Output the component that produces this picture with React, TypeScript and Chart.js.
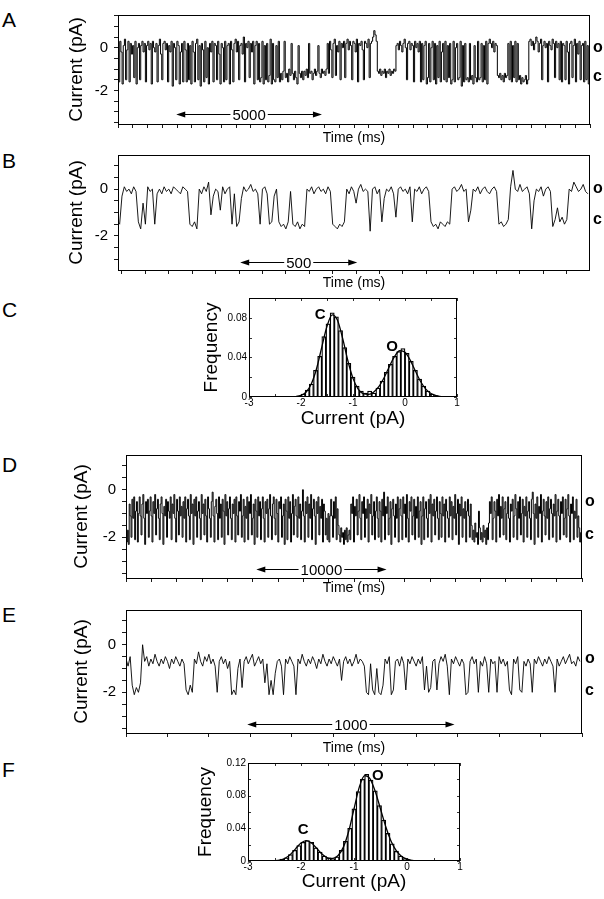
import React, { useEffect, useRef } from "react";
import { Chart, registerables } from "chart.js";

Chart.register(...registerables);

const FONT = '"Liberation Sans", Arial, Helvetica, sans-serif';

// ---------------- Panel A : long recording (ms, pA) ----------------
const A_TIME_START = 0;
const A_TIME_STEP = 40;
const A_CURRENT = [
  0.2,-1.6,0.3,-0.2,-1.7,0.1,0.4,-1.5,-0.1,0.3,-1.6,0.2,-0.3,0.1,-1.4,0.3,-1.7,0.0,0.2,-1.5,
  0.1,0.3,-0.2,0.2,-1.6,0.1,0.3,-0.1,0.2,-1.7,0.3,0.0,-0.2,0.2,-1.6,0.1,0.4,-0.3,-1.5,0.2,
  0.3,-0.1,0.2,-1.6,0.1,-0.2,0.3,-1.8,0.2,0.0,-1.5,0.3,0.1,-1.7,-0.2,0.2,-1.6,0.3,-0.1,-1.6,
  0.2,-1.5,0.1,-1.7,0.3,-0.2,-1.6,0.2,0.4,-1.5,0.1,-1.8,0.2,-0.1,-1.6,0.3,-1.4,0.0,-1.7,0.2,
  -0.2,0.3,-1.6,0.2,0.1,-1.5,0.3,-0.3,-1.7,0.2,0.0,-1.6,0.3,-1.5,0.1,0.2,-1.7,0.3,-0.1,-1.6,
  0.2,0.4,-0.2,0.3,-1.5,0.1,0.2,-0.3,0.5,-1.6,0.2,0.0,0.3,-1.4,0.2,-0.2,0.3,-1.7,0.1,0.3,
  -1.5,0.2,-1.6,-1.4,0.3,-1.7,0.1,-1.5,0.2,-1.6,-1.3,0.4,-1.7,0.2,-1.5,-1.6,0.1,-1.4,0.3,-1.6,
  -1.2,-1.5,-1.1,0.3,-1.4,-1.2,-1.6,-1.0,-1.3,0.2,-1.2,-1.5,-1.1,-1.4,-1.7,0.1,-1.2,-1.4,-1.1,-1.5,
  -1.1,-1.3,-1.0,-1.4,0.2,-1.2,-1.1,-1.5,-1.2,-1.0,-1.3,-1.1,0.1,-1.2,-1.4,-1.0,-1.2,-1.1,-1.3,-1.0,
  0.2,-1.2,0.3,-0.1,-1.4,0.2,0.4,-1.3,0.1,-0.2,0.3,-1.5,0.2,0.0,0.3,-1.4,0.2,0.4,-0.1,0.3,
  0.1,-1.5,0.3,0.2,-0.2,0.4,-1.6,0.2,0.1,0.3,-0.1,-1.5,0.3,0.2,0.0,0.4,-1.4,0.2,0.3,0.5,
  0.8,0.6,0.3,-1.1,-1.2,-1.0,-1.3,-1.1,-1.2,-1.0,-1.4,-1.1,-1.2,-1.0,-1.3,-1.1,-1.2,-1.0,-1.1,0.1,
  0.2,-0.1,0.3,0.1,-0.2,0.2,0.4,0.0,-1.5,0.2,0.3,-0.1,0.2,0.1,-1.6,0.3,0.0,0.2,-0.2,0.3,
  -1.6,0.2,-1.5,0.1,0.3,-1.7,-1.4,0.2,-1.6,0.0,0.3,-1.5,0.2,-1.7,0.1,-1.4,0.3,-1.6,-0.2,0.2,
  -1.5,0.3,-1.6,0.1,-1.4,0.2,-1.7,-1.5,0.3,-1.6,0.0,0.2,-1.5,-1.4,0.3,-1.8,0.1,-1.6,0.2,-1.5,
  -1.4,-1.6,0.2,-1.5,-1.3,-1.7,0.1,-1.4,-1.6,0.3,-1.5,-1.4,0.2,-1.6,0.1,-1.5,0.3,-1.7,0.2,0.4,
  0.2,0.0,0.3,-0.2,0.2,0.1,-1.3,-1.4,-1.2,-1.5,-1.3,-1.6,-1.2,-1.4,-1.3,0.2,-1.5,0.3,-1.6,0.1,
  -1.4,0.3,-1.6,0.2,-1.5,-1.3,-1.7,-1.4,-1.6,-1.5,-1.3,-1.7,-1.5,0.3,0.4,0.1,0.3,-0.1,0.2,0.5,
  0.3,-0.2,0.2,0.4,-1.5,0.1,0.3,0.0,0.2,-1.6,0.3,0.1,-0.1,0.4,0.2,-1.4,0.3,0.0,0.2,-1.5,
  0.3,-1.6,0.2,0.1,-1.5,0.3,-0.2,-1.7,0.2,0.3,-1.4,0.1,0.4,-1.6,0.2,-0.3,0.3,-1.5,0.1,0.2,
  -1.6,0.3,-1.5,0.1,-1.7,
];
const A_TIME_RANGE = [0, 16200];
const A_TIME_TICK = 500;
const A_CURRENT_RANGE = [-3.57, 1.53];
const A_SCALE_BAR = [2000, 7000];
const A_SCALE_BAR_LEVEL = -3.1;
const A_SCALE_BAR_TEXT = "5000";
const A_STATE_LEVELS = [0, -1.36];

// ---------------- Panel B : expanded recording ----------------
const B_TIME_START = -20;
const B_TIME_STEP = 10;
const B_CURRENT = [
  -1.4,-1.5,-0.3,
  0.1,-0.1,0.0,-0.2,0.1,-0.1,
  -1.4,-1.7,-0.6,-1.5,
  0.1,-0.1,0.0,
  -1.5,-0.2,
  0.0,-0.2,0.1,-0.1,0.0,-0.2,0.1,0.0,-0.1,-0.2,0.1,0.0,-0.1,
  -1.5,-1.6,-1.4,-1.7,
  0.0,-0.2,0.1,-0.1,0.3,
  -1.1,-0.3,
  0.0,-0.1,-0.9,0.1,-0.2,0.0,0.1,
  -1.5,-0.2,-1.6,-1.4,-0.4,
  0.1,-0.1,0.0,0.2,-0.1,0.0,-0.2,
  -1.5,
  0.0,0.1,-0.2,
  -1.5,-1.4,-0.3,
  0.0,
  -1.4,-1.6,-1.5,-1.7,-1.4,-0.1,-1.5,-1.6,-1.4,-1.7,-1.5,-1.6,
  0.0,-0.1,0.1,-0.2,0.0,0.1,-0.1,0.0,-0.2,0.1,-0.1,
  -1.5,-1.6,-1.7,-1.5,-1.6,-1.4,
  0.0,-0.2,0.1,-0.1,-0.6,0.0,0.2,-0.1,0.0,-0.1,
  -1.8,
  0.0,0.1,-0.2,0.0,
  -1.4,-0.4,
  0.0,-0.1,0.1,-0.2,
  -1.2,
  0.0,0.1,-0.1,0.0,-0.2,0.1,
  -1.4,
  0.0,-0.1,0.1,-0.2,0.0,0.1,-0.1,
  -1.4,-1.6,-1.5,-1.7,-1.4,-1.5,-1.6,-1.4,-1.5,
  0.0,0.1,-0.1,0.0,0.2,-0.1,0.0,
  -1.4,-0.9,
  0.0,-0.1,0.1,-0.2,0.0,0.1,-0.1,-0.2,0.0,0.1,-0.1,
  -1.5,-1.4,-1.6,-1.5,-1.3,
  0.1,0.8,
  0.0,-0.1,0.2,-0.1,0.0,0.1,-0.2,
  -1.7,-0.5,
  0.0,-0.1,0.1,-0.3,0.0,0.1,-0.1,
  -1.6,-1.3,-0.8,
  -1.4,-1.2,-1.5,-1.3,
  0.0,-0.1,0.3,0.1,-0.1,0.0,0.2,-0.1,-0.2,
];
const B_TIME_RANGE = [-17, 1999];
const B_TIME_TICK = 100;
const B_CURRENT_RANGE = [-3.46, 1.46];
const B_SCALE_BAR = [505, 1005];
const B_SCALE_BAR_LEVEL = -3.12;
const B_SCALE_BAR_TEXT = "500";
const B_STATE_LEVELS = [0, -1.3];

// ---------------- Panel C : amplitude histogram ----------------
const C_BIN_CENTERS = [-2.12,-2.04,-1.96,-1.88,-1.80,-1.72,-1.64,-1.56,-1.48,-1.40,-1.32,-1.24,-1.16,-1.08,-1.00,-0.92,-0.84,-0.76,-0.68,-0.60,-0.52,-0.44,-0.36,-0.28,-0.20,-0.12,-0.04,0.04,0.12,0.20,0.28,0.36,0.44,0.52,0.60,0.68];
const C_FREQUENCY = [0.0005,0.001,0.003,0.007,0.013,0.027,0.041,0.061,0.074,0.085,0.081,0.067,0.050,0.034,0.020,0.011,0.006,0.004,0.006,0.004,0.009,0.016,0.025,0.033,0.041,0.046,0.049,0.044,0.036,0.027,0.018,0.011,0.006,0.003,0.0015,0.0005];
const C_FIT_X = [-2.4,-2.3,-2.2,-2.1,-2.0,-1.9,-1.8,-1.7,-1.6,-1.5,-1.4,-1.3,-1.2,-1.1,-1.0,-0.9,-0.8,-0.7,-0.6,-0.5,-0.4,-0.3,-0.2,-0.1,0.0,0.1,0.2,0.3,0.4,0.5,0.6,0.7,0.8];
const C_FIT_Y = [0,0.00002,0.0001,0.0004,0.0016,0.0051,0.0134,0.0288,0.0504,0.0715,0.0830,0.0777,0.0594,0.0369,0.0188,0.0079,0.0033,0.0027,0.0051,0.0107,0.0197,0.0308,0.0410,0.0467,0.0452,0.0373,0.0262,0.0157,0.0080,0.0035,0.0013,0.0004,0.0001];
const C_FREQ_MAX = 0.1;
const C_STATE_LABELS = [
  { text: "C", x: -1.63, y: 0.083 },
  { text: "O", x: -0.25, y: 0.0505 },
];

// ---------------- Panel D : long recording ----------------
const D_TIME_START = 0;
const D_TIME_STEP = 70;
const D_CURRENT = [
  -1.5,-2.2,-1.7,-2.3,-0.6,-1.1,-2.0,-0.4,-1.2,-0.3,-2.1,-0.9,-0.5,-2.2,-1.0,-0.3,-1.1,-1.9,-0.6,-0.2,-1.2,-2.3,-0.5,-1.0,-0.4,
  -2.0,-0.9,-0.3,-1.1,-2.2,-0.5,-1.0,-0.2,-1.9,-0.8,-0.4,-1.2,-2.1,-0.6,-0.3,-1.0,-2.3,-0.7,-1.1,-0.4,-2.0,-0.5,-0.9,-1.2,-0.3,
  -2.1,-0.6,-1.0,-0.2,-1.2,-2.2,-0.4,-0.9,-1.9,-0.3,-1.1,-0.7,-2.0,-0.5,-1.2,-0.3,-2.2,-0.8,-0.4,-1.1,-2.1,-0.2,-1.0,-0.6,-2.3,
  -0.4,-1.1,-0.3,-2.0,-0.9,-0.5,-1.2,-2.1,-0.2,-1.0,-0.6,-1.9,-0.4,-1.1,-2.2,-0.3,-0.8,-1.2,-2.0,-0.5,-0.1,-1.1,-2.2,-0.7,-0.4,
  -1.0,-2.1,-0.3,-1.2,-0.6,-2.0,-0.4,-0.9,-2.3,-0.2,-1.1,-0.5,-1.9,-0.8,-0.3,-1.2,-2.1,-0.6,-1.0,-0.4,-2.2,-0.3,-1.1,-1.9,-0.5,
  -0.9,-0.2,-2.0,-1.1,-0.4,-2.2,-0.7,-1.2,-0.3,-2.1,-0.5,-1.0,-0.2,-1.9,-1.2,-0.6,-2.3,-0.4,-0.9,-2.0,-0.3,-1.1,-0.5,-2.1,-0.8,
  -0.3,-1.2,-2.2,-0.5,-1.0,-0.4,-2.0,-0.8,-0.2,-1.1,-2.1,-0.6,-0.3,-1.2,-1.9,-0.4,-1.0,-2.2,-0.5,-0.8,-0.3,-2.0,-1.1,-0.6,-2.3,
  -0.4,-0.9,-2.1,-0.3,-1.2,-0.5,-2.2,-1.0,-0.2,-1.9,-0.7,-0.4,-1.1,-2.0,-0.3,-1.2,-0.6,-2.1,-0.9,0.0,-1.1,-2.2,-0.5,-1.0,-0.3,
  -2.0,-0.6,-1.2,-0.2,-2.1,-0.8,-0.4,-1.1,-2.3,-0.5,-1.0,-0.3,-1.9,-0.7,-1.2,-0.4,-2.2,-0.6,-0.9,-1.9,-1.2,-2.1,-1.0,-2.2,-1.1,
  -0.4,-1.1,-2.0,-0.5,-1.2,-0.3,-2.1,-0.8,-1.5,-1.9,-2.2,-1.6,-2.0,-1.8,-2.3,-1.7,-2.1,-1.6,-2.2,-1.9,-1.7,-2.1,-0.6,-1.0,-0.3,
  -2.2,-0.7,-1.1,-0.4,-1.9,-0.9,-0.2,-1.2,-2.1,-0.5,-1.0,-0.3,-2.0,-0.8,-1.2,-0.4,-2.2,-0.6,-1.0,-0.2,-1.9,-1.1,-0.5,-2.1,-0.9,
  -0.3,-1.2,-2.0,-0.5,-0.9,-2.2,-0.4,-1.1,-0.1,-2.1,-0.7,-1.0,-0.3,-1.9,-1.2,-0.5,-2.3,-0.8,-0.4,-1.1,-2.0,-0.6,-1.2,-0.3,-2.2,
  -0.8,-0.4,-1.1,-2.1,-0.3,-1.0,-0.6,-2.0,-0.2,-1.2,-2.2,-0.5,-0.9,-0.3,-1.9,-1.1,-0.4,-2.1,-0.7,-1.2,-0.3,-2.0,-0.9,-0.5,-2.3,
  -1.1,-0.3,-2.1,-0.8,-0.5,-1.2,-2.0,-0.4,-1.0,-0.2,-2.2,-0.6,-1.1,-0.4,-1.9,-0.9,-0.3,-1.2,-2.1,-0.5,-1.0,-2.0,-0.3,-1.1,-0.6,
  -2.2,-0.4,-0.9,-1.2,-2.0,-0.3,-1.1,-0.5,-2.1,-0.7,-1.2,-0.2,-1.9,-1.0,-0.4,-2.3,-0.6,-1.1,-0.3,-2.0,-0.8,-1.2,-0.5,-2.2,-0.9,
  -0.4,-1.1,-2.0,-0.6,-1.5,-2.1,-1.7,-2.2,-1.4,-2.0,-1.8,-2.3,-0.9,-1.6,-2.1,-1.8,-2.2,-1.5,-2.0,-1.7,-2.3,-1.6,-2.1,-1.4,-0.5,
  -1.0,-0.3,-2.1,-1.2,-0.5,-0.9,-2.2,-0.4,-1.1,-0.2,-2.0,-0.7,-1.2,-0.3,-1.9,-0.8,-0.5,-2.1,-1.0,-0.3,-1.2,-2.2,-0.6,-0.9,-0.4,
  -2.0,-1.1,-0.2,-0.8,-2.1,-0.5,-1.2,-0.3,-1.9,-1.0,-0.4,-2.2,-0.7,-1.1,-0.3,-2.0,-0.9,-0.5,-1.2,-2.1,-0.4,-0.1,-1.0,-2.3,-0.6,
  -1.2,-0.3,-2.0,-0.7,-1.0,-0.2,-2.2,-0.9,-0.4,-1.1,-1.9,-0.5,-1.2,-0.3,-2.1,-0.8,-0.4,-1.0,-2.0,-0.6,-1.1,-0.2,-2.2,-0.9,-0.4,
  -1.1,-2.1,-0.5,-1.0,-0.3,-1.9,-1.2,-0.4,-2.0,-0.8,-0.2,-1.1,-2.2,-0.6,-1.0,-0.3,-2.1,-0.9,-1.2,-0.4,-2.0,-1.1,-1.6,-2.2,-1.8,
];
const D_TIME_RANGE = [0, 35000];
const D_TIME_TICK = 2000;
const D_CURRENT_RANGE = [-3.71, 1.46];
const D_SCALE_BAR = [10000, 20000];
const D_SCALE_BAR_LEVEL = -3.33;
const D_SCALE_BAR_TEXT = "10000";
const D_STATE_LEVELS = [-0.5, -1.9];

// ---------------- Panel E : expanded recording ----------------
const E_TIME_START = 0;
const E_TIME_STEP = 10;
const E_CURRENT = [
  -0.6,-0.9,-0.5,
  -1.7,-2.1,-1.8,-2.0,-1.6,
  0.0,
  -0.7,-0.5,-0.9,-0.6,-0.8,-0.4,-0.7,-0.9,-0.6,-0.8,-0.5,-0.7,-1.0,-0.6,-0.8,-0.5,-0.7,-0.9,-0.6,-0.8,
  -1.9,-2.1,-1.7,-2.0,
  -0.6,-0.8,-0.3,-0.7,-0.9,-0.5,-0.7,-0.4,-0.8,-0.6,-0.9,
  -2.0,
  -0.7,-0.5,-0.8,-0.6,-1.0,-0.7,
  -2.1,-1.9,-2.1,-1.0,
  -0.6,
  -1.8,
  -0.7,-0.5,-0.8,-0.6,-0.4,-0.9,-0.7,-0.5,-0.8,-0.6,
  -1.6,
  -0.8,
  -2.1,-1.5,-2.1,-1.2,
  -0.7,-0.6,-0.9,
  -2.1,
  -0.6,-0.8,-0.5,-0.7,-0.9,
  -2.1,
  -0.6,-0.8,-0.4,-0.7,-0.9,-0.6,-0.8,-0.5,-0.7,-1.0,-0.6,-0.8,-0.4,-0.7,-0.9,-0.6,-0.8,-0.5,-0.7,-0.9,-0.6,
  -1.5,
  -0.7,-0.5,-0.8,-0.6,-0.9,-0.7,-0.4,-0.8,-0.6,-0.7,-0.9,
  -2.0,-2.1,-0.8,-1.9,-2.1,-1.0,-2.0,-2.1,-1.7,
  -0.6,-0.8,-0.5,
  -2.1,-1.9,
  -0.7,-0.6,-0.9,-0.5,-0.8,
  -1.9,
  -0.6,-0.8,-0.5,-0.7,-0.9,-0.6,-0.8,-0.5,
  -1.9,-0.9,-2.0,-1.8,
  -0.7,-0.6,
  -1.9,
  -0.8,-0.5,-0.7,-0.4,-0.9,
  -2.1,
  -0.6,-0.8,-0.5,-0.7,-0.9,-0.6,-0.8,
  -2.1,-2.0,
  -0.7,-0.5,-0.8,-0.6,
  -2.0,
  -0.7,-0.9,-0.5,-0.8,
  -2.0,
  -0.6,-0.8,-0.7,
  -2.0,
  -0.5,-0.8,-0.6,-0.9,-0.7,
  -1.9,-2.1,
  -0.6,-0.8,-0.5,
  -1.9,-2.0,
  -0.7,-0.9,-0.6,-0.8,
  -2.0,
  -0.6,-0.8,-0.5,-0.7,-0.9,-0.6,-0.8,-0.5,-0.7,-0.9,
  -2.0,
  -0.6,-0.9,-0.7,-0.5,-0.8,-0.6,-0.4,-0.8,-0.7,-0.9,-0.5,-0.7,
];
const E_TIME_RANGE = [0, 2200];
const E_TIME_TICK = 200;
const E_CURRENT_RANGE = [-3.71, 1.46];
const E_SCALE_BAR = [585, 1585];
const E_SCALE_BAR_LEVEL = -3.33;
const E_SCALE_BAR_TEXT = "1000";
const E_STATE_LEVELS = [-0.58, -1.96];

// ---------------- Panel F : amplitude histogram ----------------
const F_BIN_CENTERS = [-2.52,-2.44,-2.36,-2.28,-2.20,-2.12,-2.04,-1.96,-1.88,-1.80,-1.72,-1.64,-1.56,-1.48,-1.40,-1.32,-1.24,-1.16,-1.08,-1.00,-0.92,-0.84,-0.76,-0.68,-0.60,-0.52,-0.44,-0.36,-0.28,-0.20,-0.12,-0.04,0.04];
const F_FREQUENCY = [0.0003,0.0008,0.0025,0.004,0.008,0.013,0.019,0.023,0.025,0.023,0.016,0.011,0.006,0.004,0.003,0.005,0.013,0.024,0.040,0.064,0.085,0.100,0.106,0.099,0.086,0.068,0.050,0.034,0.021,0.012,0.006,0.003,0.001];
const F_FIT_X = [-2.8,-2.7,-2.6,-2.5,-2.4,-2.3,-2.2,-2.1,-2.0,-1.9,-1.8,-1.7,-1.6,-1.5,-1.4,-1.3,-1.2,-1.1,-1.0,-0.9,-0.8,-0.7,-0.6,-0.5,-0.4,-0.3,-0.2,-0.1,0.0,0.1,0.2];
const F_FIT_Y = [0,0,0.0001,0.0003,0.0011,0.0034,0.0081,0.0152,0.0220,0.0250,0.0220,0.0152,0.0082,0.0039,0.0031,0.0067,0.0170,0.0364,0.0637,0.0905,0.1046,0.1009,0.0854,0.0637,0.0419,0.0241,0.0123,0.0055,0.0022,0.0008,0.0002];
const F_FREQ_MAX = 0.12;
const F_STATE_LABELS = [
  { text: "C", x: -1.96, y: 0.0376 },
  { text: "O", x: -0.55, y: 0.104 },
];

const HIST_CURRENT_RANGE = [-3, 1];

// ---------------- layout (pixels) ----------------
type Box = { left: number; top: number; width: number; height: number };

type TraceSpec = {
  canvas: Box;
  yAxisWidth: number;
  xAxisHeight: number;
  padTop: number;
  padRight: number;
  yTitlePad: number;
  xTitlePad: number;
  lineWidth: number;
  stepped: boolean;
  start: number;
  step: number;
  values: number[];
  xRange: number[];
  xTick: number;
  yRange: number[];
  bar: number[];
  barLevel: number;
  barText: string;
  levels: number[];
};

function TracePanel({ spec }: { spec: TraceSpec }) {
  const ref = useRef<HTMLCanvasElement | null>(null);
  useEffect(() => {
    const s = spec;
    const deco = {
      id: "traceDeco",
      afterDraw(chart: any) {
        const { ctx, chartArea: a, scales } = chart;
        const xs = scales.x;
        const ys = scales.y;
        ctx.save();
        ctx.strokeStyle = "#000";
        ctx.fillStyle = "#000";
        ctx.lineWidth = 1;
        ctx.strokeRect(a.left + 0.5, a.top + 0.5, a.right - a.left - 1, a.bottom - a.top);
        const y = Math.round(ys.getPixelForValue(s.barLevel)) + 0.5;
        const x0 = xs.getPixelForValue(s.bar[0]);
        const x1 = xs.getPixelForValue(s.bar[1]);
        ctx.font = `15px ${FONT}`;
        const tw = ctx.measureText(s.barText).width;
        const cx = (x0 + x1) / 2;
        const head = 9;
        const hh = 3;
        ctx.beginPath();
        ctx.moveTo(x0 + head - 1, y);
        ctx.lineTo(cx - tw / 2 - 2, y);
        ctx.moveTo(cx + tw / 2 + 2, y);
        ctx.lineTo(x1 - head + 1, y);
        ctx.stroke();
        ctx.beginPath();
        ctx.moveTo(x0, y);
        ctx.lineTo(x0 + head, y - hh);
        ctx.lineTo(x0 + head, y + hh);
        ctx.closePath();
        ctx.fill();
        ctx.beginPath();
        ctx.moveTo(x1, y);
        ctx.lineTo(x1 - head, y - hh);
        ctx.lineTo(x1 - head, y + hh);
        ctx.closePath();
        ctx.fill();
        ctx.textAlign = "center";
        ctx.textBaseline = "middle";
        ctx.fillText(s.barText, cx, y + 1);
        ctx.font = `bold 16px ${FONT}`;
        ctx.textAlign = "left";
        ctx.textBaseline = "alphabetic";
        ["o", "c"].forEach((t, i) => {
          ctx.fillText(t, a.right + 3, ys.getPixelForValue(s.levels[i]) + 4);
        });
        ctx.restore();
      },
    };
    const chart = new Chart(ref.current as HTMLCanvasElement, {
      type: "line",
      data: {
        datasets: [
          {
            data: s.values.map((v, i) => ({ x: s.start + i * s.step, y: v })),
            borderColor: "#000",
            borderWidth: s.lineWidth,
            pointRadius: 0,
            tension: 0,
            stepped: s.stepped ? "middle" : false,
            fill: false,
          },
        ],
      },
      options: {
        animation: false,
        responsive: false,
        maintainAspectRatio: false,
        events: [],
        layout: { padding: { top: s.padTop, right: s.padRight, left: 0, bottom: 0 } },
        plugins: { legend: { display: false }, tooltip: { enabled: false } },
        scales: {
          x: {
            type: "linear",
            position: "bottom",
            min: s.xRange[0],
            max: s.xRange[1],
            ticks: {
              stepSize: s.xTick,
              autoSkip: false,
              includeBounds: false,
              maxRotation: 0,
              callback: () => "",
            },
            grid: {
              display: true,
              drawOnChartArea: false,
              drawTicks: true,
              tickLength: 4,
              tickColor: "#000",
              tickWidth: 0.9,
              color: "#000",
            },
            border: { display: false },
            title: {
              display: true,
              text: "Time (ms)",
              color: "#000",
              font: { family: FONT, size: 14 },
              padding: { top: 0, bottom: s.xTitlePad },
            },
            afterFit: (scale: any) => {
              scale.height = s.xAxisHeight;
            },
          },
          y: {
            type: "linear",
            position: "left",
            min: s.yRange[0],
            max: s.yRange[1],
            ticks: {
              stepSize: 0.5,
              autoSkip: false,
              includeBounds: false,
              padding: 6,
              color: "#000",
              font: { family: FONT, size: 15 },
              callback: (v: any) => {
                const n = Number(v);
                if (Math.abs(n) < 1e-6) return "0";
                if (Math.abs(n + 2) < 1e-6) return "-2";
                return "";
              },
            },
            grid: {
              display: true,
              drawOnChartArea: false,
              drawTicks: true,
              tickLength: 4,
              tickColor: "#000",
              tickWidth: 0.9,
              color: "#000",
            },
            border: { display: false },
            title: {
              display: true,
              text: "Current (pA)",
              color: "#000",
              font: { family: FONT, size: 19 },
              padding: { top: s.yTitlePad, bottom: 0 },
            },
            afterFit: (scale: any) => {
              scale.width = s.yAxisWidth;
            },
          },
        },
      },
      plugins: [deco],
    } as any);
    return () => chart.destroy();
  }, [spec]);
  const c = spec.canvas;
  return (
    <canvas
      ref={ref}
      width={c.width}
      height={c.height}
      style={{ position: "absolute", left: c.left, top: c.top, width: c.width, height: c.height }}
    />
  );
}

type HistSpec = {
  canvas: Box;
  yAxisWidth: number;
  xAxisHeight: number;
  padTop: number;
  padRight: number;
  yTitlePad: number;
  xTitlePad: number;
  centers: number[];
  freq: number[];
  fitX: number[];
  fitY: number[];
  yMax: number;
  labels: { text: string; x: number; y: number }[];
};

function HistPanel({ spec }: { spec: HistSpec }) {
  const ref = useRef<HTMLCanvasElement | null>(null);
  useEffect(() => {
    const s = spec;
    const deco = {
      id: "histDeco",
      afterDraw(chart: any) {
        const { ctx, chartArea: a, scales } = chart;
        const xs = scales.x;
        const ys = scales.y;
        ctx.save();
        ctx.strokeStyle = "#000";
        ctx.fillStyle = "#000";
        ctx.lineWidth = 1;
        ctx.strokeRect(a.left + 0.5, a.top + 0.5, a.right - a.left - 1, a.bottom - a.top - 1);
        ctx.lineWidth = 0.8;
        ctx.beginPath();
        xs.ticks.forEach((t: any) => {
          const px = Math.round(xs.getPixelForValue(t.value)) + 0.5;
          ctx.moveTo(px, a.bottom);
          ctx.lineTo(px, a.bottom - 3);
          ctx.moveTo(px, a.top);
          ctx.lineTo(px, a.top + 3);
        });
        ys.ticks.forEach((t: any) => {
          const py = Math.round(ys.getPixelForValue(t.value)) + 0.5;
          ctx.moveTo(a.left, py);
          ctx.lineTo(a.left + 3, py);
          ctx.moveTo(a.right, py);
          ctx.lineTo(a.right - 3, py);
        });
        ctx.stroke();
        ctx.font = `bold 15px ${FONT}`;
        ctx.textAlign = "center";
        ctx.textBaseline = "middle";
        s.labels.forEach((l) => {
          ctx.fillText(l.text, xs.getPixelForValue(l.x), ys.getPixelForValue(l.y));
        });
        ctx.restore();
      },
    };
    const chart = new Chart(ref.current as HTMLCanvasElement, {
      type: "bar",
      data: {
        datasets: [
          {
            type: "bar",
            data: s.centers.map((c, i) => ({ x: c, y: s.freq[i] })),
            backgroundColor: "rgba(255,255,255,0)",
            borderColor: "#000",
            borderWidth: 0.6,
            barPercentage: 1,
            categoryPercentage: 1,
            order: 2,
          },
          {
            type: "line",
            data: s.fitX.map((c, i) => ({ x: c, y: s.fitY[i] })),
            borderColor: "#000",
            borderWidth: 1.3,
            pointRadius: 0,
            cubicInterpolationMode: "monotone",
            fill: false,
            order: 1,
          },
        ],
      },
      options: {
        animation: false,
        responsive: false,
        maintainAspectRatio: false,
        events: [],
        layout: { padding: { top: s.padTop, right: s.padRight, left: 0, bottom: 0 } },
        plugins: { legend: { display: false }, tooltip: { enabled: false } },
        scales: {
          x: {
            type: "linear",
            position: "bottom",
            offset: false,
            min: HIST_CURRENT_RANGE[0],
            max: HIST_CURRENT_RANGE[1],
            ticks: {
              stepSize: 0.5,
              autoSkip: false,
              maxRotation: 0,
              padding: 0,
              color: "#000",
              font: { family: FONT, size: 10 },
              callback: (v: any) => {
                const n = Number(v);
                return Math.abs(n - Math.round(n)) < 1e-6 ? String(Math.round(n)) : "";
              },
            },
            grid: { display: false, drawTicks: false, offset: false },
            border: { display: false },
            title: {
              display: true,
              text: "Current (pA)",
              color: "#000",
              font: { family: FONT, size: 19 },
              padding: { top: 0, bottom: s.xTitlePad },
            },
            afterFit: (scale: any) => {
              scale.height = s.xAxisHeight;
            },
          },
          y: {
            type: "linear",
            position: "left",
            min: 0,
            max: s.yMax,
            ticks: {
              stepSize: 0.02,
              autoSkip: false,
              padding: 2,
              color: "#000",
              font: { family: FONT, size: 10 },
              callback: (v: any) => {
                const r = Math.round(Number(v) * 100);
                if (r % 4 !== 0) return "";
                return r === 0 ? "0" : String(r / 100);
              },
            },
            grid: { display: false, drawTicks: false },
            border: { display: false },
            title: {
              display: true,
              text: "Frequency",
              color: "#000",
              font: { family: FONT, size: 19 },
              padding: { top: s.yTitlePad, bottom: 0 },
            },
            afterFit: (scale: any) => {
              scale.width = s.yAxisWidth;
            },
          },
        },
      },
      plugins: [deco],
    } as any);
    return () => chart.destroy();
  }, [spec]);
  const c = spec.canvas;
  return (
    <canvas
      ref={ref}
      width={c.width}
      height={c.height}
      style={{ position: "absolute", left: c.left, top: c.top, width: c.width, height: c.height }}
    />
  );
}

const SPEC_A: TraceSpec = {
  canvas: { left: 40, top: 0, width: 564, height: 150 },
  yAxisWidth: 78, xAxisHeight: 26, padTop: 4, padRight: 14, yTitlePad: 25.6, xTitlePad: 3.6,
  lineWidth: 1.0, stepped: true,
  start: A_TIME_START, step: A_TIME_STEP, values: A_CURRENT,
  xRange: A_TIME_RANGE, xTick: A_TIME_TICK, yRange: A_CURRENT_RANGE,
  bar: A_SCALE_BAR, barLevel: A_SCALE_BAR_LEVEL, barText: A_SCALE_BAR_TEXT, levels: A_STATE_LEVELS,
};
const SPEC_B: TraceSpec = {
  canvas: { left: 40, top: 140, width: 564, height: 160 },
  yAxisWidth: 78, xAxisHeight: 30, padTop: 12, padRight: 14, yTitlePad: 25.6, xTitlePad: 8.6,
  lineWidth: 0.9, stepped: false,
  start: B_TIME_START, step: B_TIME_STEP, values: B_CURRENT,
  xRange: B_TIME_RANGE, xTick: B_TIME_TICK, yRange: B_CURRENT_RANGE,
  bar: B_SCALE_BAR, barLevel: B_SCALE_BAR_LEVEL, barText: B_SCALE_BAR_TEXT, levels: B_STATE_LEVELS,
};
const SPEC_D: TraceSpec = {
  canvas: { left: 40, top: 440, width: 564, height: 160 },
  yAxisWidth: 86, xAxisHeight: 22, padTop: 14, padRight: 22, yTitlePad: 30.6, xTitlePad: 3.6,
  lineWidth: 1.0, stepped: true,
  start: D_TIME_START, step: D_TIME_STEP, values: D_CURRENT,
  xRange: D_TIME_RANGE, xTick: D_TIME_TICK, yRange: D_CURRENT_RANGE,
  bar: D_SCALE_BAR, barLevel: D_SCALE_BAR_LEVEL, barText: D_SCALE_BAR_TEXT, levels: D_STATE_LEVELS,
};
const SPEC_E: TraceSpec = {
  canvas: { left: 40, top: 595, width: 564, height: 165 },
  yAxisWidth: 86, xAxisHeight: 27, padTop: 14, padRight: 22, yTitlePad: 30.6, xTitlePad: 3.6,
  lineWidth: 0.9, stepped: false,
  start: E_TIME_START, step: E_TIME_STEP, values: E_CURRENT,
  xRange: E_TIME_RANGE, xTick: E_TIME_TICK, yRange: E_CURRENT_RANGE,
  bar: E_SCALE_BAR, barLevel: E_SCALE_BAR_LEVEL, barText: E_SCALE_BAR_TEXT, levels: E_STATE_LEVELS,
};
const SPEC_C: HistSpec = {
  canvas: { left: 190, top: 290, width: 280, height: 140 },
  yAxisWidth: 59, xAxisHeight: 33, padTop: 8, padRight: 13, yTitlePad: 10.6, xTitlePad: 0,
  centers: C_BIN_CENTERS, freq: C_FREQUENCY, fitX: C_FIT_X, fitY: C_FIT_Y, yMax: C_FREQ_MAX,
  labels: C_STATE_LABELS,
};
const SPEC_F: HistSpec = {
  canvas: { left: 185, top: 755, width: 285, height: 144 },
  yAxisWidth: 63, xAxisHeight: 38, padTop: 7, padRight: 10, yTitlePad: 9.6, xTitlePad: 5.6,
  centers: F_BIN_CENTERS, freq: F_FREQUENCY, fitX: F_FIT_X, fitY: F_FIT_Y, yMax: F_FREQ_MAX,
  labels: F_STATE_LABELS,
};

const PANEL_LETTERS = [
  { text: "A", y: 20 },
  { text: "B", y: 161 },
  { text: "C", y: 310 },
  { text: "D", y: 465 },
  { text: "E", y: 615 },
  { text: "F", y: 770 },
];

export default function App() {
  return (
    <div
      style={{
        position: "absolute",
        left: 0,
        top: 0,
        width: 604,
        height: 899,
        background: "#fff",
        overflow: "hidden",
        fontFamily: FONT,
      }}
    >
      {PANEL_LETTERS.map((p) => (
        <div
          key={p.text}
          style={{
            position: "absolute",
            left: 2,
            top: p.y - 12,
            fontSize: 21,
            lineHeight: "24px",
            color: "#000",
          }}
        >
          {p.text}
        </div>
      ))}
      <TracePanel spec={SPEC_A} />
      <TracePanel spec={SPEC_B} />
      <HistPanel spec={SPEC_C} />
      <TracePanel spec={SPEC_D} />
      <TracePanel spec={SPEC_E} />
      <HistPanel spec={SPEC_F} />
    </div>
  );
}
